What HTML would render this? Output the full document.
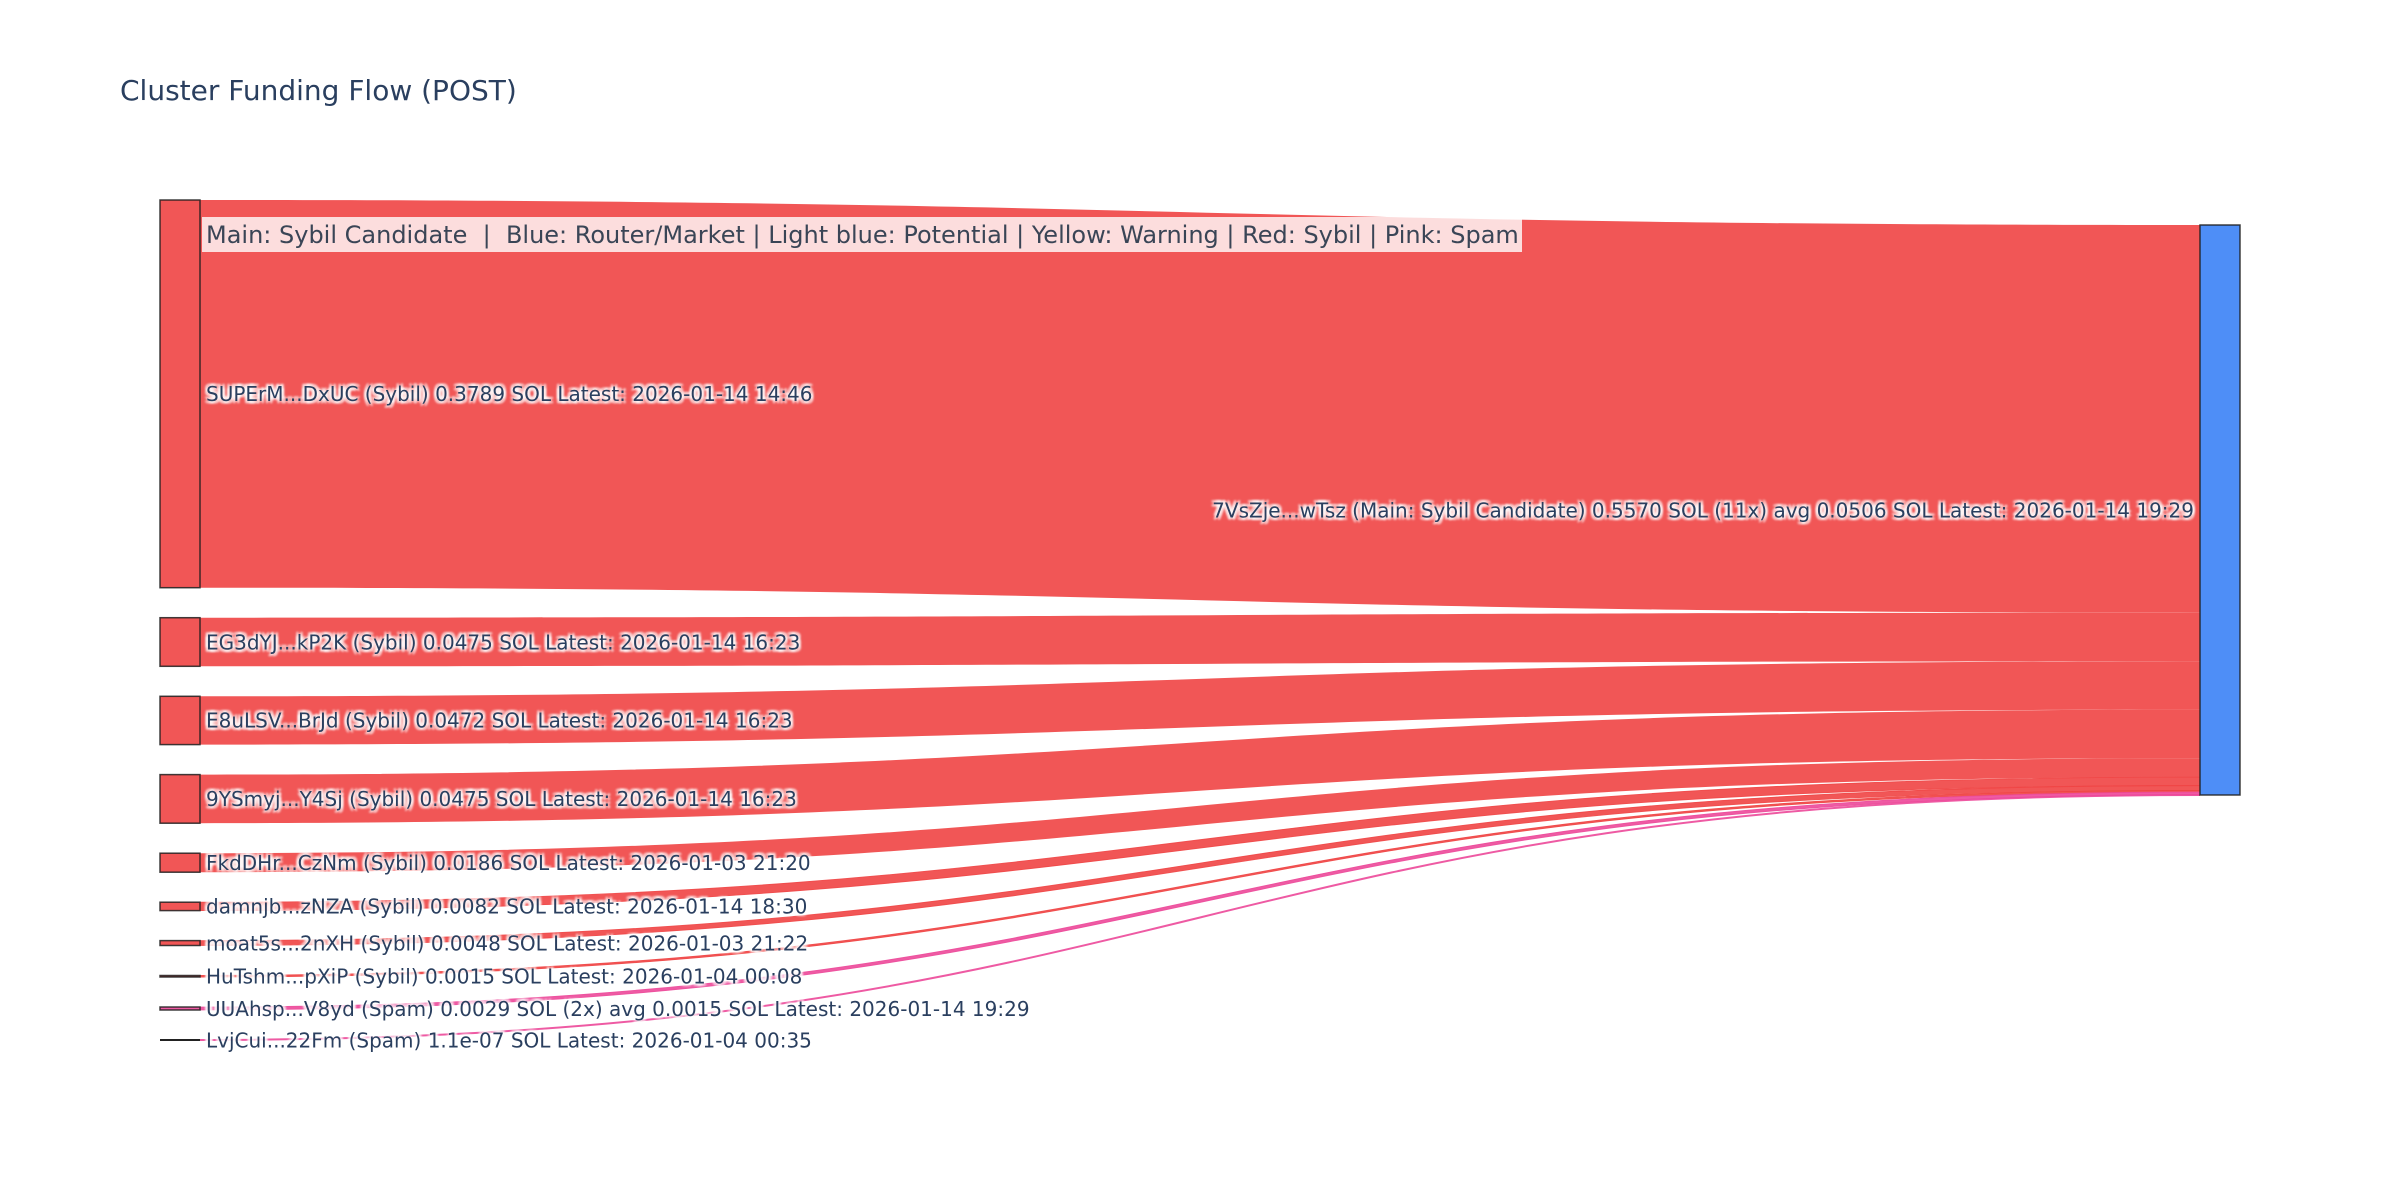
<!DOCTYPE html>
<html>
<head>
<meta charset="utf-8">
<style>
  html, body { margin: 0; padding: 0; background: #fff; }
  svg { display: block; }
  .lbl { font-family: "DejaVu Sans", "Liberation Sans", sans-serif; font-size: 20px; fill: #2a3f5f;
         text-shadow: 2px 2px 2px #fff, -2px -2px 2px #fff, 2px -2px 2px #fff, -2px 2px 2px #fff, 0 0 2px #fff; }
</style>
</head>
<body>
<svg width="2400" height="1200" viewBox="0 0 2400 1200" xmlns="http://www.w3.org/2000/svg">
  <rect x="0" y="0" width="2400" height="1200" fill="#fff"/>

  <!-- links -->
  <g fill="rgba(239,68,68,0.9)">
    <path d="M200,200 C1200,200 1200,225 2200,225 L2200,612.7 C1200,612.7 1200,587.7 200,587.7 Z"/>
    <path d="M200,617.7 C1200,617.7 1200,612.7 2200,612.7 L2200,661.3 C1200,661.3 1200,666.3 200,666.3 Z"/>
    <path d="M200,696.3 C1200,696.3 1200,661.3 2200,661.3 L2200,709.6 C1200,709.6 1200,744.6 200,744.6 Z"/>
    <path d="M200,774.6 C1200,774.6 1200,709.6 2200,709.6 L2200,758.2 C1200,758.2 1200,823.2 200,823.2 Z"/>
    <path d="M200,853.2 C1200,853.2 1200,758.2 2200,758.2 L2200,777.2 C1200,777.2 1200,872.2 200,872.2 Z"/>
  </g>
  <g fill="rgba(239,68,68,0.9)" stroke="rgba(239,68,68,0.9)" stroke-width="0.8">
    <path d="M200,902.2 C1200,902.2 1200,777.2 2200,777.2 L2200,785.6 C1200,785.6 1200,910.6 200,910.6 Z"/>
    <path d="M200,940.6 C1200,940.6 1200,785.6 2200,785.6 L2200,790.5 C1200,790.5 1200,945.5 200,945.5 Z"/>
    <path d="M200,975.4 C1200,975.4 1200,790.4 2200,790.4 L2200,792.1 C1200,792.1 1200,977.1 200,977.1 Z"/>
  </g>
  <g fill="rgba(236,72,153,0.9)" stroke="rgba(236,72,153,0.9)" stroke-width="0.8">
    <path d="M200,1007 C1200,1007 1200,792 2200,792 L2200,795 C1200,795 1200,1010 200,1010 Z"/>
  </g>
  <path d="M200,1040 C1200,1040 1200,795 2200,795" fill="none" stroke="rgba(236,72,153,0.9)" stroke-width="2"/>

  <!-- nodes -->
  <g stroke="rgba(30,30,30,0.85)" stroke-width="1.5">
    <rect x="160" y="200" width="40" height="387.7" fill="rgba(239,68,68,0.9)"/>
    <rect x="160" y="617.7" width="40" height="48.6" fill="rgba(239,68,68,0.9)"/>
    <rect x="160" y="696.3" width="40" height="48.3" fill="rgba(239,68,68,0.9)"/>
    <rect x="160" y="774.6" width="40" height="48.6" fill="rgba(239,68,68,0.9)"/>
    <rect x="160" y="853.2" width="40" height="19" fill="rgba(239,68,68,0.9)"/>
    <rect x="160" y="902.2" width="40" height="8.4" fill="rgba(239,68,68,0.9)"/>
    <rect x="160" y="940.6" width="40" height="4.9" fill="rgba(239,68,68,0.9)"/>
    <rect x="160" y="975.5" width="40" height="1.5" fill="rgba(239,68,68,0.9)"/>
    <rect x="160" y="1007" width="40" height="3" fill="rgba(236,72,153,0.9)"/>
    <rect x="2200" y="225" width="40" height="570" fill="rgba(59,130,246,0.9)"/>
  </g>
  <line x1="160" y1="1040" x2="200" y2="1040" stroke="#222" stroke-width="2"/>

  <!-- annotation -->
  <rect x="202" y="217" width="1320" height="35" fill="rgba(255,255,255,0.8)"/>
  <text x="206" y="243" font-family="'DejaVu Sans', 'Liberation Sans', sans-serif" font-size="24" fill="#3a4556" xml:space="preserve">Main: Sybil Candidate  |  Blue: Router/Market | Light blue: Potential | Yellow: Warning | Red: Sybil | Pink: Spam</text>

  <!-- node labels -->
  <text class="lbl" x="206" y="401">SUPErM...DxUC (Sybil) 0.3789 SOL Latest: 2026-01-14 14:46</text>
  <text class="lbl" x="206" y="649.3">EG3dYJ...kP2K (Sybil) 0.0475 SOL Latest: 2026-01-14 16:23</text>
  <text class="lbl" x="206" y="727.7">E8uLSV...BrJd (Sybil) 0.0472 SOL Latest: 2026-01-14 16:23</text>
  <text class="lbl" x="206" y="806.2">9YSmyj...Y4Sj (Sybil) 0.0475 SOL Latest: 2026-01-14 16:23</text>
  <text class="lbl" x="206" y="870">FkdDHr...CzNm (Sybil) 0.0186 SOL Latest: 2026-01-03 21:20</text>
  <text class="lbl" x="206" y="913.7">damnjb...zNZA (Sybil) 0.0082 SOL Latest: 2026-01-14 18:30</text>
  <text class="lbl" x="206" y="950.3">moat5s...2nXH (Sybil) 0.0048 SOL Latest: 2026-01-03 21:22</text>
  <text class="lbl" x="206" y="983.5">HuTshm...pXiP (Sybil) 0.0015 SOL Latest: 2026-01-04 00:08</text>
  <text class="lbl" x="206" y="1015.8">UUAhsp...V8yd (Spam) 0.0029 SOL (2x) avg 0.0015 SOL Latest: 2026-01-14 19:29</text>
  <text class="lbl" x="206" y="1047.5">LvjCui...22Fm (Spam) 1.1e-07 SOL Latest: 2026-01-04 00:35</text>
  <text class="lbl" x="2194" y="517.3" text-anchor="end">7VsZje...wTsz (Main: Sybil Candidate) 0.5570 SOL (11x) avg 0.0506 SOL Latest: 2026-01-14 19:29</text>

  <!-- title -->
  <text x="120" y="100" font-family="'DejaVu Sans', 'Liberation Sans', sans-serif" font-size="28" fill="#2a3f5f">Cluster Funding Flow (POST)</text>
</svg>
</body>
</html>
